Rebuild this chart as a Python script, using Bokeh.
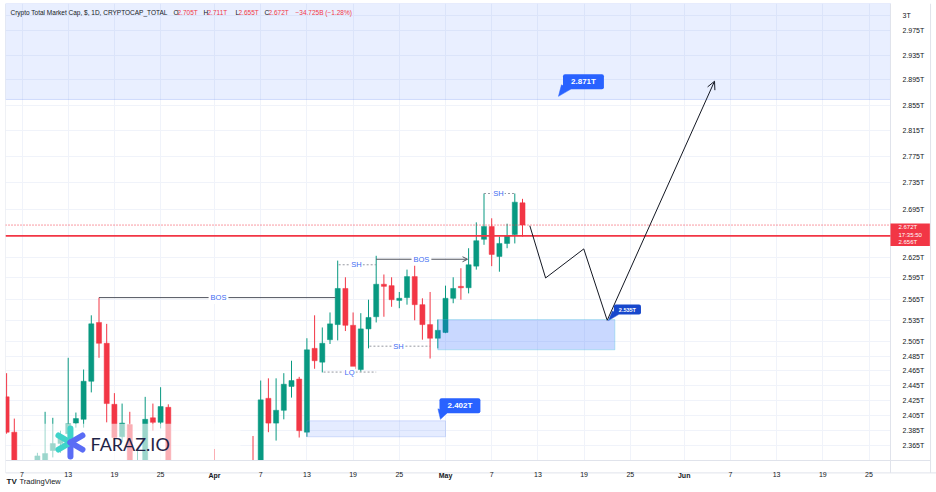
import math
import pandas as pd
from bokeh.plotting import figure
from bokeh.models import (Range1d, FixedTicker, CustomJSTickFormatter, Label, Arrow,
                          OpenHead, BoxAnnotation, ColumnDataSource, DatetimeAxis)
from bokeh.embed import file_html
from bokeh.resources import INLINE

# ---------------- data ----------------
START = "2025-03-05"
OPEN = [2.430, 2.383, 2.330, 2.290, 2.300, 2.340, 2.359, 2.368, 2.381, 2.395,
        2.400, 2.451, 2.532, 2.503, 2.420, 2.377, 2.393, 2.335, 2.345, 2.402,
        2.396, 2.416, 2.330, 2.310, 2.270, 2.240, 2.250, 2.310, 2.290, 2.260,
        2.250, 2.270, 2.260, 2.200, 2.428, 2.395, 2.412, 2.444, 2.454, 2.383,
        2.496, 2.477, 2.508, 2.529, 2.580, 2.528, 2.467, 2.523, 2.540, 2.586,
        2.584, 2.563, 2.567, 2.597, 2.557, 2.529, 2.510, 2.518, 2.566, 2.583,
        2.581, 2.612, 2.651, 2.670, 2.626, 2.645, 2.658, 2.705]
HIGH = [2.462, 2.401, 2.340, 2.310, 2.356, 2.410, 2.402, 2.385, 2.483, 2.409,
        2.467, 2.542, 2.567, 2.530, 2.435, 2.421, 2.410, 2.360, 2.430, 2.421,
        2.443, 2.420, 2.345, 2.320, 2.280, 2.270, 2.315, 2.361, 2.340, 2.290,
        2.300, 2.280, 2.378, 2.452, 2.455, 2.455, 2.462, 2.479, 2.457, 2.510,
        2.542, 2.525, 2.546, 2.620, 2.596, 2.546, 2.545, 2.564, 2.627, 2.600,
        2.596, 2.575, 2.607, 2.619, 2.566, 2.575, 2.536, 2.584, 2.596, 2.609,
        2.638, 2.676, 2.719, 2.682, 2.655, 2.674, 2.719, 2.711]
LOW = [2.381, 2.318, 2.270, 2.268, 2.290, 2.325, 2.350, 2.356, 2.376, 2.389,
       2.389, 2.436, 2.483, 2.396, 2.372, 2.370, 2.325, 2.320, 2.338, 2.385,
       2.388, 2.320, 2.300, 2.250, 2.220, 2.220, 2.230, 2.270, 2.240, 2.220,
       2.230, 2.240, 2.190, 2.170, 2.383, 2.372, 2.400, 2.429, 2.376, 2.377,
       2.468, 2.463, 2.502, 2.507, 2.520, 2.462, 2.464, 2.496, 2.532, 2.540,
       2.554, 2.552, 2.557, 2.535, 2.508, 2.482, 2.496, 2.517, 2.559, 2.564,
       2.573, 2.607, 2.643, 2.612, 2.604, 2.638, 2.645, 2.655]
CLOSE = [2.383, 2.330, 2.290, 2.280, 2.352, 2.355, 2.368, 2.378, 2.394, 2.401,
         2.451, 2.530, 2.503, 2.421, 2.376, 2.395, 2.335, 2.345, 2.400, 2.396,
         2.417, 2.330, 2.310, 2.270, 2.240, 2.250, 2.310, 2.290, 2.260, 2.250,
         2.270, 2.260, 2.200, 2.426, 2.395, 2.412, 2.447, 2.452, 2.385, 2.494,
         2.479, 2.503, 2.530, 2.580, 2.528, 2.468, 2.523, 2.539, 2.586, 2.583,
         2.564, 2.566, 2.597, 2.557, 2.529, 2.510, 2.521, 2.566, 2.580, 2.581,
         2.614, 2.649, 2.670, 2.629, 2.645, 2.656, 2.706, 2.672]
DATES = pd.date_range(START, periods=len(OPEN), freq="D")

X_TICKS = ["2025-03-07", "2025-03-13", "2025-03-19", "2025-03-25", "2025-04-01",
           "2025-04-07", "2025-04-13", "2025-04-19", "2025-04-25", "2025-05-01",
           "2025-05-07", "2025-05-13", "2025-05-19", "2025-05-25", "2025-06-01",
           "2025-06-07", "2025-06-13", "2025-06-19", "2025-06-25"]
MONTH_TICKS = ["2025-04-01", "2025-05-01", "2025-06-01"]
Y_TICKS = [2.365, 2.385, 2.405, 2.425, 2.445, 2.465, 2.485, 2.505, 2.535, 2.565,
           2.595, 2.625, 2.695, 2.735, 2.775, 2.815, 2.855, 2.895, 2.935, 2.975, 3.0]

LAST_CLOSE = 2.672
LEVEL_LINE = 2.656
TOP_ZONE_BOTTOM = 2.864
LOW_ZONE = ["2025-04-13", "2025-05-01", 2.377, 2.398]
MID_ZONE = ["2025-04-30", "2025-05-23", 2.494, 2.536]
PATH_DATES = ["2025-05-11 22:50", "2025-05-14 00:00", "2025-05-18 23:00",
              "2025-05-22 00:00", "2025-06-04 22:30"]
PATH_PRICES = [2.671, 2.595, 2.637, 2.535, 2.893]

BOS_LINES = [("2025-03-17", "2025-04-16 17:00", 2.567, "2025-04-01 12:30", False),
             ("2025-04-22", "2025-05-03 20:40", 2.622, "2025-04-27 21:00", True)]
DASH_LINES = [("2025-04-17 03:00", "2025-04-22", 2.614, "SH", "2025-04-19 10:30"),
              ("2025-04-21 03:00", "2025-04-29 01:00", 2.499, "SH", "2025-04-24 21:30"),
              ("2025-04-15 04:00", "2025-04-22", 2.4635, "LQ", "2025-04-18 12:45"),
              ("2025-05-06", "2025-05-10", 2.719, "SH", "2025-05-07 21:00")]
# date, price, text, colour, font px, padding, tail (offsets in px from centre)
CALLOUTS = [("2025-05-18 22:00", 2.892, "2.871T", "#2962ff", 8, (8, 3),
             [(-22, 3), (-13, 7.5), (-25, 14.5)]),
            ("2025-05-02 21:00", 2.418, "2.402T", "#2962ff", 8, (8, 3),
             [(-22, 3), (-13, 7.5), (-19.5, 13.5)]),
            ("2025-05-24 15:00", 2.550, "2.535T", "#1848cc", 5.5, (5, 2),
             [(-15, 1.5), (-9, 5), (-19, 11)])]

GREEN = "#089981"
RED = "#f23645"
BLUE_TXT = "#3d6cf2"
FONT = "Liberation Sans"
SEP = "#e0e3eb"


def ms(s):
    return pd.Timestamp(s).value / 1e6


DAY = 86400000.0
X0 = ms("2025-03-04 20:34")      # left edge of the chart pane
X_AX = ms("2025-06-27 19:00")    # price-scale separator
X_RB = ms("2025-07-02 23:50")    # right border of the price scale
X_END = ms("2025-07-03 18:23")   # right edge of the window
Y_AX = 2.346                     # time-scale separator
Y_TB = 2.330                     # bottom border of the time scale
Y_TOP = 3.020
Y_MIN = 2.3049                   # bottom edge of the window


def off(date, price, dx_px, dy_px):
    # small decorations placed a few pixels away from a data anchor
    return ms(date) + dx_px / 7.7 * DAY, price * math.exp(-dy_px / 1810.0)


p = figure(width=936, height=492, x_axis_type="datetime", y_axis_type="log",
           y_axis_location="right", x_range=Range1d(X0, X_END), y_range=Range1d(Y_MIN, Y_TOP),
           output_backend="svg", toolbar_location=None,
           min_border_left=5, min_border_right=0, min_border_top=3, min_border_bottom=0)
p.background_fill_color = "white"
p.border_fill_color = "white"
p.outline_line_color = None

# axes (pinned at the pane separators)
p.xaxis.ticker = FixedTicker(ticks=[ms(t) for t in X_TICKS])
p.xaxis.formatter = CustomJSTickFormatter(code="""
const d = new Date(tick);
return d.getUTCDate() === 1 ? '' : String(d.getUTCDate());
""")
p.yaxis.ticker = FixedTicker(ticks=Y_TICKS)
p.yaxis.formatter = CustomJSTickFormatter(code="""
return Math.abs(tick - 3) < 1e-9 ? '3T' : tick.toFixed(3) + 'T';
""")
p.xaxis.fixed_location = Y_AX
p.yaxis.fixed_location = X_AX
month_axis = DatetimeAxis(ticker=FixedTicker(ticks=[ms(t) for t in MONTH_TICKS]),
                          formatter=CustomJSTickFormatter(code="""
const d = new Date(tick);
return ['Jan','Feb','Mar','Apr','May','Jun','Jul','Aug','Sep','Oct','Nov','Dec'][d.getUTCMonth()];
"""), fixed_location=Y_AX)
p.add_layout(month_axis, "below")
for ax in (p.xaxis[0], p.yaxis[0], month_axis):
    ax.major_tick_line_color = None
    ax.minor_tick_line_color = None
    ax.axis_line_color = None
    ax.major_label_text_font = FONT
    ax.major_label_text_font_size = "7px"
    ax.major_label_text_color = "#131722"
    ax.major_label_standoff = 5
p.yaxis[0].major_label_standoff = 6
month_axis.major_label_text_font_style = "bold"
p.xgrid.grid_line_color = "#f0f3fa"
p.ygrid.grid_line_color = "#f0f3fa"

# top zone
p.add_layout(BoxAnnotation(bottom=TOP_ZONE_BOTTOM, right=X_AX, fill_color="#2962ff",
                           fill_alpha=0.1, line_color="#7d9cf2", line_width=1,
                           level="underlay"))

# candles
top = [max(o, c) for o, c in zip(OPEN, CLOSE)]
bot = [min(o, c) for o, c in zip(OPEN, CLOSE)]
col = [GREEN if c >= o else RED for o, c in zip(OPEN, CLOSE)]
src = ColumnDataSource(dict(x=DATES, h=HIGH, l=LOW, top=top, bot=bot, col=col))
p.segment("x", "h", "x", "l", source=src, line_color="col", line_width=1)
p.vbar(x="x", width=0.66 * DAY, top="top", bottom="bot", source=src,
       fill_color="col", line_color="col", line_width=0.5)

# watermark (logo with translucent backdrop)
p.quad(left=ms("2025-03-08 02:30"), right=ms("2025-04-04 09:00"), bottom=2.2, top=2.394,
       fill_color="white", fill_alpha=0.6, line_color=None)
LC, LP = "2025-03-13 07:00", 2.3695
arms = [(0, -14, "#3fd3c9"), (0, 14, "#5a6cf5"), (-12, -7, "#3fd3c9"),
        (-12, 7, "#3fd3c9"), (12, -7, "#5a6cf5"), (12, 7, "#5a6cf5")]
for dx, dy, c in arms:
    ex, ey = off(LC, LP, dx, dy)
    p.segment(ms(LC), LP, ex, ey, line_color=c, line_width=6, line_cap="round")

# panes outside the chart area (time scale, price scale) and their borders
p.quad(left=X0, right=X_END, bottom=Y_MIN, top=Y_AX, fill_color="white", line_color=None)
p.quad(left=X_AX, right=X_END, bottom=Y_MIN, top=Y_TOP, fill_color="white", line_color=None)
p.line([X0, X_RB], [Y_AX, Y_AX], line_color=SEP, line_width=1)
p.line([X0, X_END], [Y_TB, Y_TB], line_color=SEP, line_width=1)
p.line([X_AX, X_AX], [Y_TB, Y_TOP], line_color=SEP, line_width=1)
p.line([X_RB, X_RB], [Y_TB, Y_TOP], line_color=SEP, line_width=1)
p.line([X0, X0], [Y_TB, Y_TOP], line_color=SEP, line_width=1)

# level lines
p.line([X0, X_AX], [LAST_CLOSE, LAST_CLOSE], line_color=RED, line_dash="1 2", line_width=1)
p.line([X0, X_AX], [LEVEL_LINE, LEVEL_LINE], line_color=RED, line_width=1.6)

# zones
p.add_layout(BoxAnnotation(left=ms(LOW_ZONE[0]), right=ms(LOW_ZONE[1]),
                           bottom=LOW_ZONE[2], top=LOW_ZONE[3],
                           fill_color="#2962ff", fill_alpha=0.12,
                           line_color="#7d9cf2", line_width=1))
p.add_layout(BoxAnnotation(left=ms(MID_ZONE[0]), right=ms(MID_ZONE[1]),
                           bottom=MID_ZONE[2], top=MID_ZONE[3],
                           fill_color="#2962ff", fill_alpha=0.25,
                           line_color="#3cc4d8", line_width=1))

# BOS lines
for d0, d1, lvl, tx, arrow in BOS_LINES:
    if arrow:
        p.add_layout(Arrow(end=OpenHead(size=5, line_color="#50535e", line_width=1),
                           x_start=ms(d0), y_start=lvl, x_end=ms(d1), y_end=lvl,
                           line_color="#50535e", line_width=1))
    else:
        p.line([ms(d0), ms(d1)], [lvl, lvl], line_color="#50535e", line_width=1)
    p.add_layout(Label(x=ms(tx), y=lvl, text="BOS", text_align="center",
                       text_baseline="middle", text_font=FONT, text_font_size="7.5px",
                       text_color=BLUE_TXT, background_fill_color="white",
                       background_fill_alpha=1.0, padding=2))

for d0, d1, lvl, tx, tpos in DASH_LINES:
    p.line([ms(d0), ms(d1)], [lvl, lvl], line_color="#9598a1", line_width=1, line_dash="2 2")
    p.add_layout(Label(x=ms(tpos), y=lvl, text=tx, text_align="center",
                       text_baseline="middle", text_font=FONT, text_font_size="7.5px",
                       text_color=BLUE_TXT, background_fill_color="white",
                       background_fill_alpha=1.0, padding=1))

# projected path
p.line([ms(d) for d in PATH_DATES[:-1]], PATH_PRICES[:-1], line_color="#131722", line_width=1)
p.add_layout(Arrow(end=OpenHead(size=8, line_color="#131722", line_width=1),
                   x_start=ms(PATH_DATES[-2]), y_start=PATH_PRICES[-2],
                   x_end=ms(PATH_DATES[-1]), y_end=PATH_PRICES[-1],
                   line_color="#131722", line_width=1))

# callouts with tails
for d, pr, tx, c, fs, pad, tail in CALLOUTS:
    pts = [off(d, pr, dx, dy) for dx, dy in tail]
    p.patch([q[0] for q in pts], [q[1] for q in pts], fill_color=c, line_color=c, line_width=0.5)
    p.add_layout(Label(x=ms(d), y=pr, text=tx, text_align="center", text_baseline="middle",
                       text_font=FONT, text_font_size=f"{fs}px", text_font_style="bold",
                       text_color="white", background_fill_color=c, background_fill_alpha=1.0,
                       padding=pad, border_radius=2))

p.add_layout(Label(x=ms("2025-03-15 21:30"), y=2.368, text="FARAZ.IO", text_font="Lato",
                   text_font_size="18px", text_color="#1f2447", text_baseline="middle"))

# header
HDR = [("Crypto Total Market Cap, $, 1D, CRYPTOCAP_TOTAL", 10, "#131722"),
       ("O", 173, "#131722"), ("2.705T", 177, RED),
       ("H", 203, "#131722"), ("2.711T", 207, RED),
       ("L", 235, "#131722"), ("2.655T", 238, RED),
       ("C", 264, "#131722"), ("2.672T", 268, RED),
       ("\u221234.725B (\u22121.28%)", 295, RED)]
for tx, px, c in HDR:
    p.add_layout(Label(x=X0, y=3.005, x_offset=px - 5, text=tx, text_font=FONT,
                       text_font_size="6.5px", text_color=c, text_baseline="middle"))

# price labels on the price scale
p.add_layout(Label(x=X_AX, y=2.6743, text="2.672T\n17:35:50\n2.656T", text_font=FONT,
                   text_font_size="6px", text_color="white", text_baseline="top",
                   text_align="left", background_fill_color=RED,
                   background_fill_alpha=1.0, padding=(8, 1)))

# footer
p.add_layout(Label(x=X0, y=2.319, x_offset=14, text="TradingView", text_font=FONT,
                   text_font_size="7.5px", text_color="#131722", text_baseline="middle"))
p.add_layout(Label(x=X0, y=2.319, x_offset=1, text="TV", text_font=FONT,
                   text_font_size="8px", text_font_style="bold", text_color="#131722",
                   text_baseline="middle"))

open("out.html", "w").write(file_html(p, INLINE))
